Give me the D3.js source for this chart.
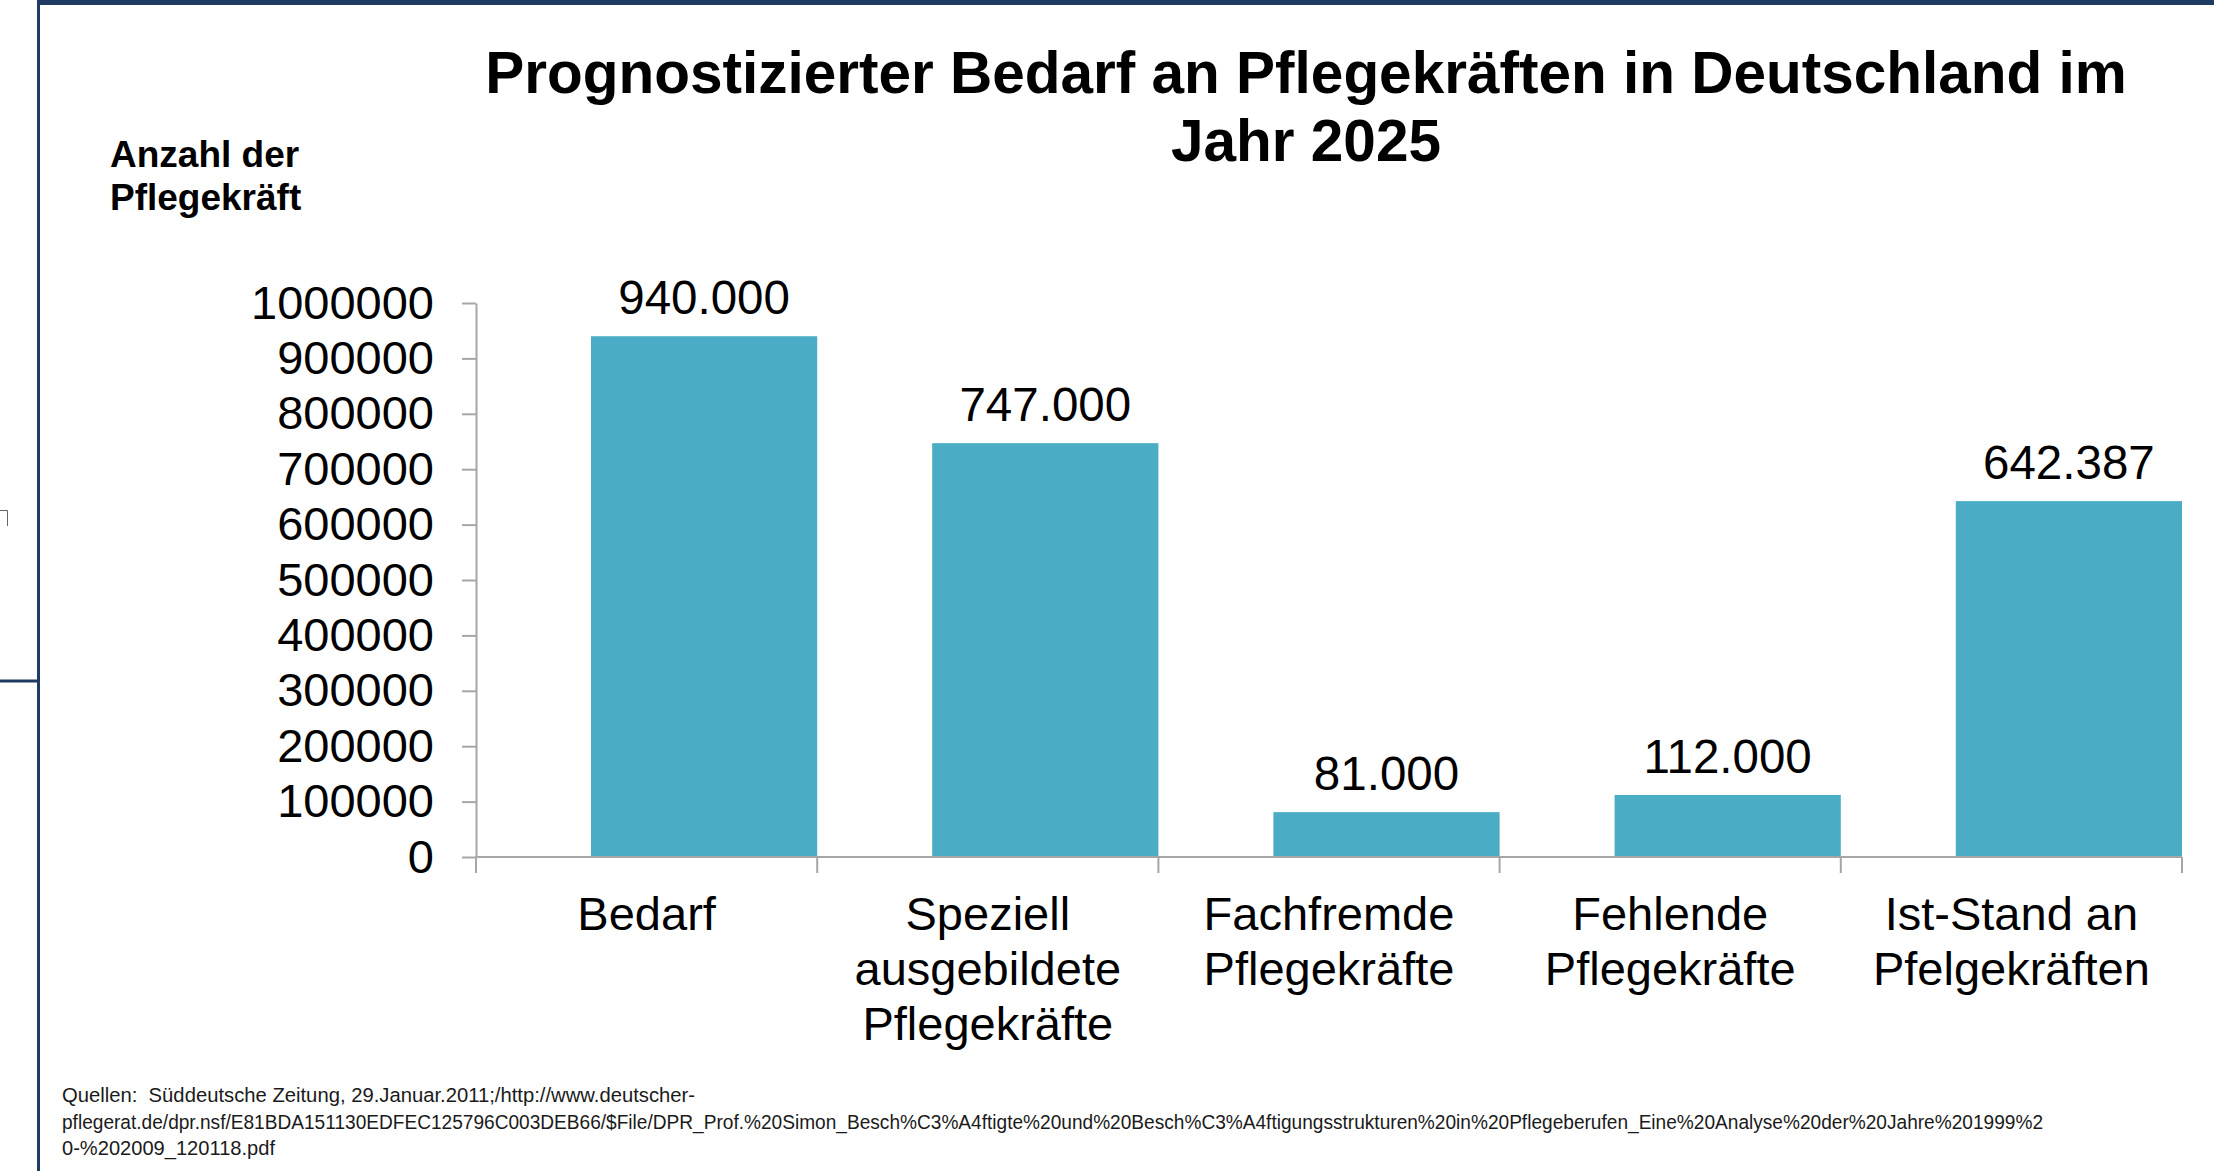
<!DOCTYPE html>
<html>
<head>
<meta charset="utf-8">
<script src="https://cdn.jsdelivr.net/npm/d3@7"></script>
<style>
	body { margin: 0; background: #fff; }
	svg { display: block; font-family: "Liberation Sans", Arial, sans-serif; }
	.src { white-space: pre; }
</style>
</head>
<body>
<svg></svg>
<script>

// DATA

var categories = [
	"Bedarf",
	"Speziell\nausgebildete\nPflegekräfte",
	"Fachfremde\nPflegekräfte",
	"Fehlende\nPflegekräfte",
	"Ist-Stand an\nPfelgekräften"
]
var values = [940000, 747000, 81000, 112000, 642387]
var valueLabels = ["940.000", "747.000", "81.000", "112.000", "642.387"]
var yTicks = [0, 100000, 200000, 300000, 400000, 500000, 600000, 700000, 800000, 900000, 1000000]

var titleLines = ["Prognostizierter Bedarf an Pflegekräften in Deutschland im", "Jahr 2025"]
var yTitleLines = ["Anzahl der", "Pflegekräft"]
var sourceLines = [
	"Quellen:  Süddeutsche Zeitung, 29.Januar.2011;/http://www.deutscher-",
	"pflegerat.de/dpr.nsf/E81BDA151130EDFEC125796C003DEB66/$File/DPR_Prof.%20Simon_Besch%C3%A4ftigte%20und%20Besch%C3%A4ftigungsstrukturen%20in%20Pflegeberufen_Eine%20Analyse%20der%20Jahre%201999%2",
	"0-%202009_120118.pdf"
]
// widths of the source lines as they appear in the picture (narrow Calibri-like font)
var sourceWidths = [633, 1981, 213]

// LAYOUT

var width = 2214
var height = 1171
var navy = "#1f3b63"
var barColor = "#4bacc6"
var axisColor = "#a6a6a6"

var svg = d3.select("svg")
	.attr("width", width)
	.attr("height", height)
	.attr("viewBox", `0 0 ${width} ${height}`)

// slide frame bits
svg.append("rect")
	.attr("x", 37).attr("y", 0)
	.attr("width", width - 37).attr("height", 5)
	.attr("fill", navy)
svg.append("line")
	.attr("x1", 38.5).attr("y1", 0).attr("x2", 38.5).attr("y2", height)
	.attr("stroke", navy).attr("stroke-width", 3)
svg.append("line")
	.attr("x1", 0).attr("y1", 681).attr("x2", 38).attr("y2", 681)
	.attr("stroke", navy).attr("stroke-width", 3)
svg.append("path")
	.attr("d", "M0,510.5H7.5V526")
	.attr("fill", "none").attr("stroke", "#666").attr("stroke-width", 1)

// SCALES

var x = d3.scaleBand()
	.domain(categories)
	.range([476, 2182])
	.paddingInner(0)
	.paddingOuter(0)

var y = d3.scaleLinear()
	.domain([0, 1000000])
	.range([857, 303])

var barOffset = 0.337   // bars sit in the right part of each category slot

// TITLE

svg.append("g")
	.selectAll("text")
	.data(titleLines)
	.enter().append("text")
	.attr("x", 1306)
	.attr("y", function(d, i) { return 93 + i * 68 })
	.attr("text-anchor", "middle")
	.attr("font-size", 58.5)
	.attr("font-weight", "bold")
	.text(function(d) { return d })

svg.append("g")
	.selectAll("text")
	.data(yTitleLines)
	.enter().append("text")
	.attr("x", 110)
	.attr("y", function(d, i) { return 167 + i * 43 })
	.attr("font-size", 37)
	.attr("font-weight", "bold")
	.text(function(d) { return d })

// Y AXIS

var yAxis = svg.append("g")
	.attr("transform", "translate(476,0)")
	.call(d3.axisLeft(y)
		.tickValues(yTicks)
		.tickFormat(d3.format("d"))
		.tickSize(14)
		.tickSizeOuter(0)
		.tickPadding(28))

yAxis.select(".domain").attr("stroke", axisColor).attr("stroke-width", 2)
yAxis.selectAll(".tick line").attr("stroke", axisColor).attr("stroke-width", 2)
yAxis.selectAll(".tick text")
	.attr("font-size", 47)
	.attr("font-family", "Liberation Sans, Arial, sans-serif")
	.attr("fill", "#000")

// BARS

svg.append("g")
	.selectAll("rect")
	.data(values)
	.enter().append("rect")
	.attr("x", function(d, i) { return x(categories[i]) + x.bandwidth() * barOffset })
	.attr("width", x.bandwidth() * (1 - barOffset))
	.attr("y", function(d) { return y(d) })
	.attr("height", function(d) { return y(0) - y(d) })
	.attr("fill", barColor)

svg.append("g")
	.selectAll("text")
	.data(values)
	.enter().append("text")
	.attr("x", function(d, i) { return x(categories[i]) + x.bandwidth() * (1 + barOffset) / 2 })
	.attr("y", function(d) { return y(d) - 22 })
	.attr("text-anchor", "middle")
	.attr("font-size", 47.5)
	.text(function(d, i) { return valueLabels[i] })

// X AXIS

var xAxis = svg.append("g")

xAxis.append("line")
	.attr("x1", x.range()[0]).attr("x2", x.range()[1])
	.attr("y1", y(0)).attr("y2", y(0))
	.attr("stroke", axisColor).attr("stroke-width", 2)

var bounds = categories.map(function(c) { return x(c) }).concat([x.range()[1]])

xAxis.selectAll(".xtick")
	.data(bounds)
	.enter().append("line")
	.attr("class", "xtick")
	.attr("x1", function(d) { return d }).attr("x2", function(d) { return d })
	.attr("y1", y(0)).attr("y2", y(0) + 16)
	.attr("stroke", axisColor).attr("stroke-width", 2)

var catLabels = xAxis.selectAll(".cat")
	.data(categories)
	.enter().append("text")
	.attr("class", "cat")
	.attr("text-anchor", "middle")
	.attr("font-size", 47)
	.attr("transform", function(d) { return "translate(" + (x(d) + x.bandwidth() / 2) + ",930)" })

catLabels.selectAll("tspan")
	.data(function(d) { return d.split("\n") })
	.enter().append("tspan")
	.attr("x", 0)
	.attr("y", function(d, i) { return i * 55 })
	.text(function(d) { return d })

// SOURCE

svg.append("g")
	.selectAll("text")
	.data(sourceLines)
	.enter().append("text")
	.attr("class", "src")
	.attr("x", 62)
	.attr("y", function(d, i) { return 1102 + i * 26.5 })
	.attr("font-size", 20.5)
	.attr("fill", "#1a1a1a")
	.attr("textLength", function(d, i) { return sourceWidths[i] })
	.attr("lengthAdjust", "spacingAndGlyphs")
	.text(function(d) { return d })

</script>
</body>
</html>
